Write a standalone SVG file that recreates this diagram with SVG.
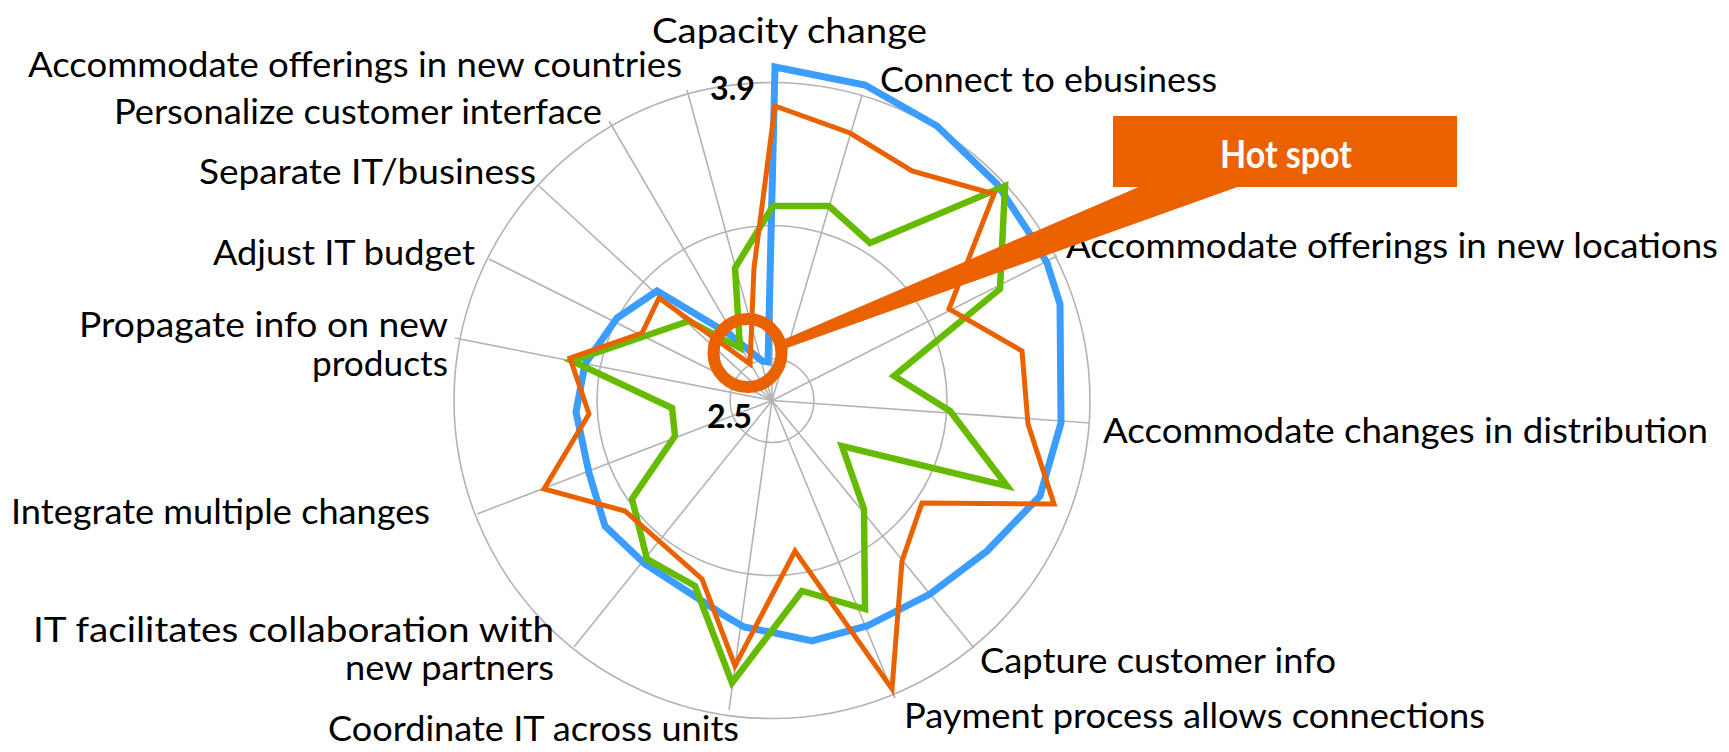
<svg xmlns="http://www.w3.org/2000/svg" width="1729" height="752" viewBox="0 0 1729 752">
<style>
.grid{fill:none;stroke:#b3b3b3;stroke-width:1.6}
.lbl{font-family:Lato,"Noto Sans","Liberation Sans",sans-serif;font-size:35px;fill:#000}
.num{font-family:Lato,"Liberation Sans",sans-serif;font-size:32px;font-weight:bold;fill:#000}
.ser{fill:none;stroke-linejoin:miter;stroke-miterlimit:6}
.hot{fill:#EA6100}
</style>
<rect width="1729" height="752" fill="#fff"/>
<g id="grid">
<circle class="grid" cx="772" cy="400.5" r="42"/>
<circle class="grid" cx="772" cy="400.5" r="175"/>
<circle class="grid" cx="772" cy="400.5" r="318"/>
<g id="spokes">
<line class="grid" x1="772" y1="400.5" x2="772" y2="82"/>
<line class="grid" x1="772" y1="400.5" x2="862" y2="95"/>
<line class="grid" x1="772" y1="400.5" x2="1057" y2="256"/>
<line class="grid" x1="772" y1="400.5" x2="1090" y2="423"/>
<line class="grid" x1="772" y1="400.5" x2="974" y2="648"/>
<line class="grid" x1="772" y1="400.5" x2="895" y2="698"/>
<line class="grid" x1="772" y1="400.5" x2="729" y2="710"/>
<line class="grid" x1="772" y1="400.5" x2="574" y2="647"/>
<line class="grid" x1="772" y1="400.5" x2="477" y2="514"/>
<line class="grid" x1="772" y1="400.5" x2="455" y2="338"/>
<line class="grid" x1="772" y1="400.5" x2="489" y2="259"/>
<line class="grid" x1="772" y1="400.5" x2="539" y2="186"/>
<line class="grid" x1="772" y1="400.5" x2="609" y2="121"/>
<line class="grid" x1="772" y1="400.5" x2="687" y2="90"/>
</g>
</g>
<g id="series">
<polygon id="blue" class="ser" stroke="#3A9DFF" stroke-width="7" points="775,67 865,85 937,126 997,184 1030,234 1047,263 1060,304 1061,423 1040,496 987,551 930,594 867,626 812,641 775,633 744,627 722,614 699,599 645,564 605,526 589,473 576,412 585,364 617,318 657,291 729,334 762,361 768,362"/>
<polygon id="green" class="ser" stroke="#66BB00" stroke-width="6.5" points="773,206 829,206 870,243 1005,186 1000,289 894,376 950,411 1007,486 842,446 864,509 865,609 802,591 732,683 695,586 647,559 632,499 675,436 672,408 572,361 689,321 740,348 735,268"/>
<polygon id="orange" class="ser" stroke="#EA6100" stroke-width="5" points="775,106 850,133 912,171 994,194 949,309 1022,351 1028,424 1054,504 922,503 902,561 892,689 795,551 735,666 702,579 625,511 544,489 589,414 570,358 642,333 659,298 750,364 754,268"/>
</g>
<g id="axis-values">
<text class="num" x="710" y="100" textLength="45" lengthAdjust="spacingAndGlyphs">3.9</text>
<text class="num" x="707" y="428" textLength="45" lengthAdjust="spacingAndGlyphs">2.5</text>
</g>
<g id="labels">
<text class="lbl" x="652" y="43" textLength="275" lengthAdjust="spacingAndGlyphs">Capacity change</text>
<text class="lbl" x="880" y="92" textLength="337" lengthAdjust="spacingAndGlyphs">Connect to ebusiness</text>
<text class="lbl" x="1066" y="258" textLength="652" lengthAdjust="spacingAndGlyphs">Accommodate offerings in new locations</text>
<text class="lbl" x="1103" y="443" textLength="605" lengthAdjust="spacingAndGlyphs">Accommodate changes in distribution</text>
<text class="lbl" x="980" y="673" textLength="356" lengthAdjust="spacingAndGlyphs">Capture customer info</text>
<text class="lbl" x="904" y="728" textLength="581" lengthAdjust="spacingAndGlyphs">Payment process allows connections</text>
<text class="lbl" x="328" y="741" textLength="411" lengthAdjust="spacingAndGlyphs">Coordinate IT across units</text>
<text class="lbl"><tspan x="33" y="642" textLength="521" lengthAdjust="spacingAndGlyphs">IT facilitates collaboration with</tspan><tspan x="345" y="680" textLength="209" lengthAdjust="spacingAndGlyphs">new partners</tspan></text>
<text class="lbl" x="11" y="524" textLength="419" lengthAdjust="spacingAndGlyphs">Integrate multiple changes</text>
<text class="lbl"><tspan x="79" y="337" textLength="369" lengthAdjust="spacingAndGlyphs">Propagate info on new</tspan><tspan x="312" y="376" textLength="136" lengthAdjust="spacingAndGlyphs">products</tspan></text>
<text class="lbl" x="213" y="265" textLength="262" lengthAdjust="spacingAndGlyphs">Adjust IT budget</text>
<text class="lbl" x="199" y="184" textLength="337" lengthAdjust="spacingAndGlyphs">Separate IT/business</text>
<text class="lbl" x="114" y="124" textLength="488" lengthAdjust="spacingAndGlyphs">Personalize customer interface</text>
<text class="lbl" x="28" y="77" textLength="654" lengthAdjust="spacingAndGlyphs">Accommodate offerings in new countries</text>
</g>
<g id="hotspot">
<circle cx="747.5" cy="353" r="34" fill="none" stroke="#EA6100" stroke-width="12"/>
<polygon class="hot" points="1155,180 1257,180 787,348 785,339"/>
<rect class="hot" x="1113" y="116" width="344" height="71"/>
<text x="1286" y="168" text-anchor="middle" textLength="132" lengthAdjust="spacingAndGlyphs" style="font-family:Lato,'Liberation Sans',sans-serif;font-size:38px;font-weight:bold;fill:#fff">Hot spot</text>
</g>
</svg>
